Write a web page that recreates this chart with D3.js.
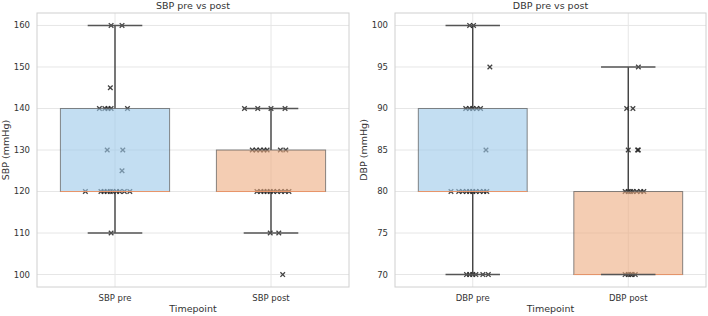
<!DOCTYPE html>
<html>
<head>
<meta charset="utf-8">
<script src="https://cdn.jsdelivr.net/npm/d3@7"></script>
<style>
  body { margin: 0; background: #fff; }
  text { font-family: "DejaVu Sans", sans-serif; fill: #333; }
</style>
</head>
<body>
<div id="chart"></div>
<script>
// ---- data ----
const titles = ["SBP pre vs post", "DBP pre vs post"];
const yLabels = ["SBP (mmHg)", "DBP (mmHg)"];
const sbpCats = ["SBP pre", "SBP post"];
const dbpCats = ["DBP pre", "DBP post"];
const sbpTicks = [100, 110, 120, 130, 140, 150, 160];
const dbpTicks = [70, 75, 80, 85, 90, 95, 100];

// box stats per category: [whiskerLow, q1, median, q3, whiskerHigh]
const sbpBoxes = [[110, 120, 120, 140, 160], [110, 120, 120, 130, 140]];
const dbpBoxes = [[70, 80, 80, 90, 100], [70, 70, 70, 80, 95]];

// strip points: value and jitter (in category units)
const sbpPreVals = [160, 160, 145, 140, 140, 140, 140, 140, 130, 130, 125,
  120, 120, 120, 120, 120, 120, 120, 120, 120, 120, 110];
const sbpPreJit = [-0.025, 0.045, -0.03, -0.10, -0.065, -0.045, -0.025, 0.08, -0.05, 0.05, 0.045,
  -0.19, -0.09, -0.07, -0.05, -0.03, -0.015, 0.01, 0.03, 0.06, 0.095, -0.025];
const sbpPostVals = [140, 140, 140, 140, 130, 130, 130, 130, 130, 130, 130,
  120, 120, 120, 120, 120, 120, 120, 120, 120, 120, 110, 110, 100];
const sbpPostJit = [-0.17, -0.085, 0, 0.09, -0.12, -0.095, -0.07, -0.045, -0.025, 0.06, 0.095,
  -0.09, -0.065, -0.045, -0.025, -0.005, 0.015, 0.04, 0.065, 0.09, 0.115, -0.005, 0.05, 0.075];
const dbpPreVals = [100, 100, 95, 90, 90, 90, 90, 90, 85,
  80, 80, 80, 80, 80, 80, 80, 80, 80, 80, 70, 70, 70, 70, 70, 70];
const dbpPreJit = [-0.02, 0.005, 0.11, -0.045, -0.02, 0, 0.025, 0.05, 0.085,
  -0.14, -0.09, -0.065, -0.04, -0.02, 0, 0.02, 0.045, 0.07, 0.09, -0.04, -0.02, 0, 0.02, 0.065, 0.1];
const dbpPostVals = [95, 90, 90, 85, 85, 85, 80, 80, 80, 80, 80, 80, 80, 70, 70, 70, 70, 70];
const dbpPostJit = [0.065, -0.01, 0.03, 0, 0.06, 0.065, -0.02, 0, 0.015, 0.03, 0.055, 0.08, 0.1,
  -0.02, 0, 0.015, 0.025, 0.045];

const boxColors = ["#9bc8e9", "#edac80"];

// ---- layout ----
const W = 708, H = 316;
const panels = [
  { x0: 37, x1: 349, cats: sbpCats, ticks: sbpTicks, dom: [97, 163], boxes: sbpBoxes,
    pts: [[sbpPreVals, sbpPreJit], [sbpPostVals, sbpPostJit]], title: titles[0], ylab: yLabels[0] },
  { x0: 395, x1: 706, cats: dbpCats, ticks: dbpTicks, dom: [68.5, 101.5], boxes: dbpBoxes,
    pts: [[dbpPreVals, dbpPreJit], [dbpPostVals, dbpPostJit]], title: titles[1], ylab: yLabels[1] }
];
const plotTop = 13, plotBottom = 287;

const svg = d3.select("#chart").append("svg")
  .attr("width", W).attr("height", H);

panels.forEach(p => {
  const x = d3.scaleLinear().domain([-0.5, 1.5]).range([p.x0, p.x1]);
  const y = d3.scaleLinear().domain(p.dom).range([plotBottom, plotTop]);
  const g = svg.append("g");

  // grid
  g.selectAll(".hg").data(p.ticks).join("line")
    .attr("x1", p.x0).attr("x2", p.x1)
    .attr("y1", d => y(d)).attr("y2", d => y(d))
    .attr("stroke", "#e6e6e6").attr("stroke-width", 1);
  g.selectAll(".vg").data(p.cats).join("line")
    .attr("x1", (d, i) => x(i)).attr("x2", (d, i) => x(i))
    .attr("y1", plotTop).attr("y2", plotBottom)
    .attr("stroke", "#e6e6e6").attr("stroke-width", 1);

  // points (drawn beneath the translucent boxes)
  p.pts.forEach(([vals, jit], ci) => {
    const s = 2.3;
    g.append("g").selectAll("path").data(vals).join("path")
      .attr("d", (v, k) => {
        const cx = x(ci + jit[k]), cy = y(v);
        return `M${cx - s},${cy - s}L${cx + s},${cy + s}M${cx - s},${cy + s}L${cx + s},${cy - s}`;
      })
      .attr("stroke", "#222").attr("stroke-width", 1.3).attr("fill", "none")
      .attr("opacity", 0.85);
  });

  // boxes
  p.boxes.forEach((b, ci) => {
    const [lo, q1, med, q3, hi] = b;
    const bw = 0.35;
    g.append("line")
      .attr("x1", x(ci)).attr("x2", x(ci))
      .attr("y1", y(hi)).attr("y2", y(q3))
      .attr("stroke", "#333").attr("stroke-width", 1.3);
    g.append("line")
      .attr("x1", x(ci)).attr("x2", x(ci))
      .attr("y1", y(q1)).attr("y2", y(lo))
      .attr("stroke", "#333").attr("stroke-width", 1.3);
    g.append("rect")
      .attr("x", x(ci - bw)).attr("y", y(q3))
      .attr("width", x(ci + bw) - x(ci - bw)).attr("height", y(q1) - y(q3))
      .attr("fill", boxColors[ci]).attr("fill-opacity", 0.6)
      .attr("stroke", "#555").attr("stroke-opacity", 0.7).attr("stroke-width", 1);
    g.append("line")
      .attr("x1", x(ci - bw)).attr("x2", x(ci + bw))
      .attr("y1", y(med)).attr("y2", y(med))
      .attr("stroke", "#e8956a").attr("stroke-width", 1);
    [lo, hi].forEach(v => {
      g.append("line")
        .attr("x1", x(ci - bw / 2)).attr("x2", x(ci + bw / 2))
        .attr("y1", y(v)).attr("y2", y(v))
        .attr("stroke", "#555").attr("stroke-width", 1.4);
    });
  });

  // frame
  g.append("rect")
    .attr("x", p.x0).attr("y", plotTop)
    .attr("width", p.x1 - p.x0).attr("height", plotBottom - plotTop)
    .attr("fill", "none").attr("stroke", "#d0d0d0").attr("stroke-width", 1);

  // axes text
  g.selectAll(".yt").data(p.ticks).join("text")
    .attr("x", p.x0 - 7).attr("y", d => y(d)).attr("dy", "0.35em")
    .attr("text-anchor", "end").attr("font-size", 8.5).text(d => d);
  g.selectAll(".xt").data(p.cats).join("text")
    .attr("x", (d, i) => x(i)).attr("y", 298).attr("dy", "0.35em")
    .attr("text-anchor", "middle").attr("font-size", 8.5).text(d => d);

  g.append("text")
    .attr("x", (p.x0 + p.x1) / 2).attr("y", 9)
    .attr("text-anchor", "middle").attr("font-size", 9.5).text(p.title);
  g.append("text")
    .attr("x", (p.x0 + p.x1) / 2).attr("y", 312)
    .attr("text-anchor", "middle").attr("font-size", 9.5).text("Timepoint");
  g.append("text")
    .attr("transform", `translate(${p.x0 - 28},${(plotTop + plotBottom) / 2}) rotate(-90)`)
    .attr("text-anchor", "middle").attr("font-size", 9.5).text(p.ylab);
});
</script>
</body>
</html>
